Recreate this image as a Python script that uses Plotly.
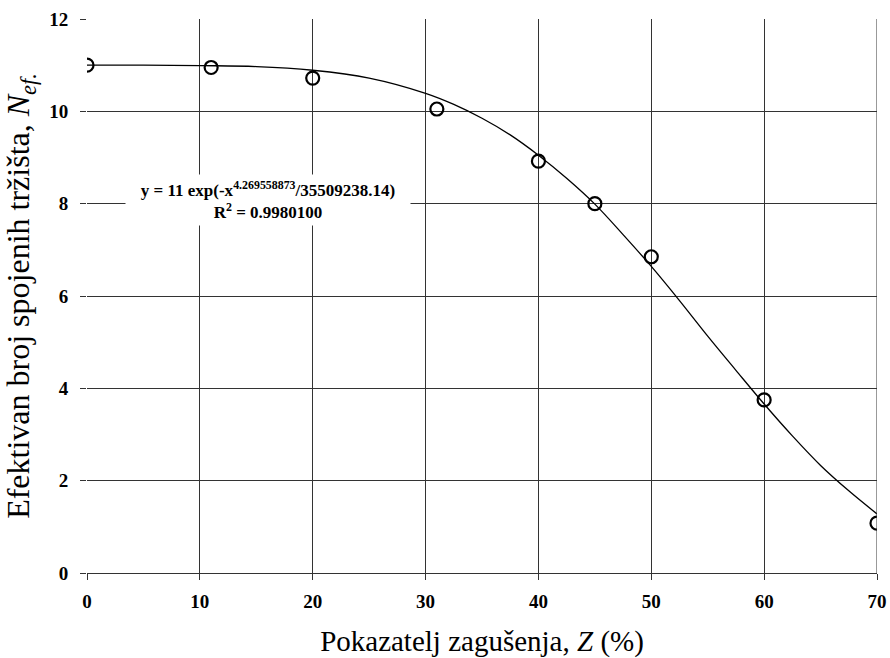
import plotly.graph_objects as go

# Measured data points
z_points = [0, 11, 20, 31, 40, 45, 50, 60, 70]
n_points = [11.0, 10.95, 10.72, 10.05, 8.92, 8.0, 6.85, 3.75, 1.08]

# Fitted curve
z_curve = [0, 5, 10, 15, 20, 25, 30, 32.5, 35, 37.5, 40, 42.5, 45, 47.5, 50,
           52.5, 55, 57.5, 60, 62.5, 65, 67.5, 70]
n_curve = [11.0, 11.0, 10.99, 10.97, 10.89, 10.72, 10.39, 10.15, 9.85, 9.49, 9.05, 8.55, 7.99, 7.33, 6.64,
           5.90, 5.13, 4.39, 3.66, 2.97, 2.33, 1.78, 1.28]

x_ticks = [0, 10, 20, 30, 40, 50, 60, 70]
y_ticks = [0, 2, 4, 6, 8, 10, 12]

eq_text = "y = 11 exp(-x<sup>4.269558873</sup>/35509238.14)<br>R<sup>2</sup> = 0.9980100"

serif = "Liberation Serif"

fig = go.Figure()
fig.add_trace(go.Scatter(x=z_curve, y=n_curve, mode="lines",
                         line=dict(color="black", width=1.3, shape="spline", smoothing=1.0),
                         showlegend=False, hoverinfo="skip"))
fig.add_trace(go.Scatter(x=z_points, y=n_points, mode="markers",
                         marker=dict(symbol="circle-open", size=13, color="black",
                                     line=dict(width=2.2, color="black")),
                         showlegend=False))

fig.add_annotation(x=0.229, y=0.673, xref="paper", yref="paper", text=eq_text,
                   xanchor="center", yanchor="middle",
                   showarrow=False, bgcolor="white", align="center",
                   width=278, height=44, borderpad=3,
                   font=dict(family=serif, size=17, color="black", weight="bold"))

fig.update_layout(
    width=890, height=658,
    margin=dict(l=87, r=13, t=19, b=85, autoexpand=False),
    paper_bgcolor="white", plot_bgcolor="white",
    xaxis=dict(range=[0, 70], tickvals=x_ticks, showgrid=True, gridcolor="#333333", gridwidth=1,
               zeroline=False, showline=True, linecolor="#333333", linewidth=1,
               ticks="outside", ticklen=6, tickcolor="#333333", automargin=False,
               ticklabelstandoff=5,
               tickfont=dict(family=serif, size=19, color="black", weight="bold"),
               title=dict(text="Pokazatelj zagušenja, <i>Z</i> (%)",
                          font=dict(family=serif, size=29, color="black"), standoff=24)),
    yaxis=dict(range=[0, 12], tickvals=y_ticks, showgrid=True, gridcolor="#333333", gridwidth=1,
               zeroline=False, showline=False, automargin=False,
               ticks="outside", ticklen=6, tickcolor="#333333",
               ticklabelstandoff=8,
               tickfont=dict(family=serif, size=19, color="black", weight="bold"),
               title=dict(text="Efektivan broj spojenih tržišta, <i>N<sub>ef.</sub></i>",
                          font=dict(family=serif, size=32, color="black"), standoff=10)),
)
fig.add_shape(type="line", xref="x", yref="y", x0=70, x1=70, y0=0, y1=12,
              line=dict(color="#333333", width=1))

fig.write_html("out.html", config={"displayModeBar": False},
               post_script="document.body.style.margin='0';document.body.style.overflow='hidden';")
